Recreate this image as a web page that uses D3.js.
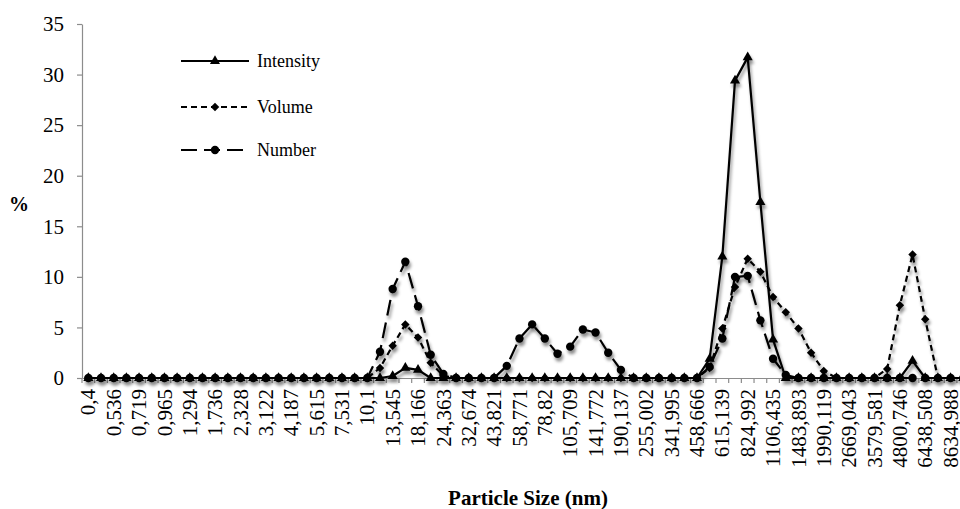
<!DOCTYPE html>
<html>
<head>
<meta charset="utf-8">
<script src="https://cdn.jsdelivr.net/npm/d3@7"></script>
<style>
  body { margin: 0; background: #fff; }
  svg { display: block; }
  svg text { font-family: "Liberation Serif", "Times New Roman", Times, serif; fill: #000; }
</style>
</head>
<body>
<svg id="chart" width="960" height="509"></svg>
<script>
// Size classes (nm) of the DLS distribution, decimal comma
const sizes = ["0,4","0,463","0,536","0,621","0,719","0,833","0,965","1,117","1,294","1,499",
  "1,736","2,010","2,328","2,696","3,122","3,615","4,187","4,849","5,615","6,503",
  "7,531","8,721","10,1","11,700","13,545","15,690","18,166","21,040","24,363","28,210",
  "32,674","37,842","43,821","50,750","58,771","68,060","78,82","91,280","105,709","122,400",
  "141,772","164,200","190,137","220,200","255,002","295,300","341,995","396,100","458,666","531,200",
  "615,139","712,400","824,992","955,400","1106,435","1281,000","1483,893","1718,000","1990,119","2305,000",
  "2669,043","3091,000","3579,581","4145,000","4800,746","5560,000","6438,508","7456,000","8634,988","10000,000"];

// Distribution by intensity (%)
const intensity = [0,0,0,0,0,0,0,0,0,0, 0,0,0,0,0,0,0,0,0,0, 0,0,0,0,0.2,1.0,0.8,0,0,0,
  0,0,0,0,0,0,0,0,0,0, 0,0,0,0,0,0,0,0,0,1.9, 12.0,29.4,31.7,17.4,3.8,0,0,0,0,0,
  0,0,0,0,0,1.7,0,0,0,0];

// Distribution by volume (%)
const volume = [0,0,0,0,0,0,0,0,0,0, 0,0,0,0,0,0,0,0,0,0, 0,0,0,1.0,3.2,5.3,4.0,1.5,0.2,0,
  0,0,0,0,0,0,0,0,0,0, 0,0,0,0,0,0,0,0,0,1.0, 4.9,9.0,11.8,10.5,8.0,6.5,4.9,2.5,0.7,0,
  0,0,0,0.9,7.2,12.2,5.8,0,0,0];

// Distribution by number (%)
const number = [0,0,0,0,0,0,0,0,0,0, 0,0,0,0,0,0,0,0,0,0, 0,0,0,2.6,8.8,11.5,7.1,2.3,0.4,0,
  0,0,0,1.2,3.9,5.3,3.9,2.4,3.1,4.8, 4.5,2.5,0.8,0,0,0,0,0,0,1.1, 3.9,10.0,10.1,5.7,1.9,0.3,0,0,0,0,
  0,0,0,0,0,0,0,0,0,0];

const yTicks = [0, 5, 10, 15, 20, 25, 30, 35];

const FONT = '"Liberation Serif", "Times New Roman", Times, serif';

const svg = d3.select("#chart");
const plotLeft = 82, bandW = 12.68, plotTop = 24, plotBottom = 378;

const x = d3.scaleBand().domain(sizes).range([plotLeft, plotLeft + bandW * sizes.length]).padding(0);
const y = d3.scaleLinear().domain([0, 35]).range([plotBottom, plotTop]);
const cx = d => x(d) + x.bandwidth() / 2;

// soft shadow under the series
const defs = svg.append("defs");
const f = defs.append("filter").attr("id", "shadow")
  .attr("x", "-5%").attr("y", "-5%").attr("width", "110%").attr("height", "120%");
f.append("feDropShadow").attr("dx", 1.5).attr("dy", 3.5).attr("stdDeviation", 1.8)
  .attr("flood-color", "#000").attr("flood-opacity", 0.45);

// Y axis
const yAxis = svg.append("g").attr("transform", `translate(${plotLeft},0)`)
  .call(d3.axisLeft(y).tickValues(yTicks).tickSize(5).tickSizeOuter(0).tickPadding(13));
yAxis.attr("font-family", FONT);
yAxis.select(".domain").attr("stroke", "#8c8c8c").attr("stroke-width", 1.2);
yAxis.selectAll(".tick line").attr("stroke", "#8c8c8c").attr("stroke-width", 1.2);
yAxis.selectAll("text").attr("font-size", 21).style("font-family", FONT);

// X axis: labels on every second class, ticks on class boundaries
const xAxis = svg.append("g").attr("transform", `translate(0,${plotBottom})`)
  .call(d3.axisBottom(x).tickSize(0).tickSizeOuter(0)
    .tickFormat((d, i) => i % 2 === 0 ? d : ""));
xAxis.attr("font-family", FONT);
xAxis.select(".domain").attr("stroke", "#8c8c8c").attr("stroke-width", 1.2);
xAxis.selectAll("text")
  .attr("font-size", 21).style("font-family", FONT)
  .attr("transform", "rotate(-90)")
  .attr("x", -11).attr("y", 0).attr("dy", "0.34em")
  .attr("text-anchor", "end");
svg.append("g").selectAll("line").data(sizes).join("line")
  .attr("x1", d => x(d)).attr("x2", d => x(d))
  .attr("y1", plotBottom).attr("y2", plotBottom + 5)
  .attr("stroke", "#8c8c8c").attr("stroke-width", 1.2);

// axis titles
svg.append("text").attr("x", 19).attr("y", 211).attr("text-anchor", "middle")
  .style("font-family", FONT)
  .attr("font-size", 20).attr("font-weight", "bold").text("%");
svg.append("text").attr("x", 528).attr("y", 505).attr("text-anchor", "middle")
  .style("font-family", FONT)
  .attr("font-size", 21).attr("font-weight", "bold").text("Particle Size (nm)");

const series = [
  { name: "Intensity", values: intensity, dash: null, marker: "triangle" },
  { name: "Volume", values: volume, dash: "6,4", marker: "diamond" },
  { name: "Number", values: number, dash: "16,7", marker: "circle" }
];

const symbolPath = {
  triangle: d3.symbol().type(d3.symbolTriangle).size(44)(),
  diamond: d3.symbol().type(d3.symbolSquare).size(36)(),
  circle: d3.symbol().type(d3.symbolCircle).size(55)()
};
const markerRotate = m => m === "diamond" ? " rotate(45)" : "";

const line = d3.line().x((d, i) => cx(sizes[i])).y(d => y(d));

const plot = svg.append("g").attr("filter", "url(#shadow)");
series.forEach(s => {
  plot.append("path").datum(s.values)
    .attr("d", line).attr("fill", "none").attr("stroke", "#000")
    .attr("stroke-width", 2.2).attr("stroke-dasharray", s.dash)
    .attr("stroke-linejoin", "round");
  plot.append("g").selectAll("path").data(s.values).join("path")
    .attr("d", symbolPath[s.marker])
    .attr("transform", (d, i) => `translate(${cx(sizes[i])},${y(d)})${markerRotate(s.marker)}`)
    .attr("fill", "#000");
});

// legend
const legendY = [61, 107, 150];
const legend = svg.append("g");
series.forEach((s, k) => {
  const g = legend.append("g").attr("transform", `translate(0,${legendY[k]})`);
  g.append("line").attr("x1", 181).attr("x2", 249).attr("y1", 0).attr("y2", 0)
    .attr("stroke", "#000").attr("stroke-width", 2.2).attr("stroke-dasharray", s.dash);
  g.append("path").attr("d", symbolPath[s.marker])
    .attr("transform", `translate(215,0)${markerRotate(s.marker)}`).attr("fill", "#000");
  g.append("text").attr("x", 257).attr("y", 0).attr("dy", "0.33em")
    .style("font-family", FONT)
    .attr("font-size", 18).text(s.name);
});
</script>
</body>
</html>
